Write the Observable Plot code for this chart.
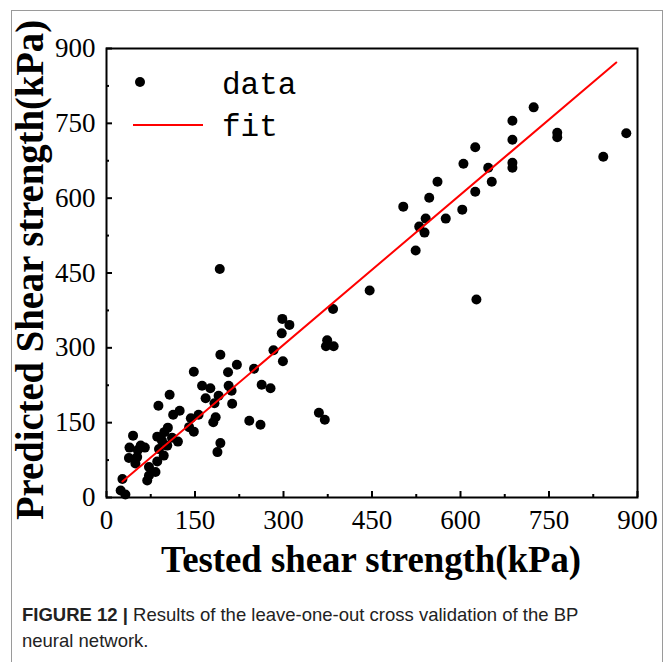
<!DOCTYPE html>
<html><head><meta charset="utf-8">
<script src="https://cdn.jsdelivr.net/npm/d3@7"></script>
<script src="https://cdn.jsdelivr.net/npm/@observablehq/plot@0.6"></script>
<style>
body{margin:0;background:#fff;width:664px;height:662px;overflow:hidden;position:relative}
#frame{position:absolute;left:11px;top:10px;width:650px;height:720px;border:1.5px solid #9a9a9a;}
#chart{position:absolute;left:0;top:0}
#cap{position:absolute;left:22px;top:602px;font:18.5px "Liberation Sans",Arial,sans-serif;color:#222;line-height:26px;white-space:nowrap}
</style></head><body>
<div id="frame"></div>
<div id="chart"></div>
<div id="cap"><b>FIGURE 12 |</b> Results of the leave-one-out cross validation of the BP<br>neural network.</div>
<script>
// Tested (x) and predicted (y) shear strength, kPa
const tested = [297,283,299,193,221,148,206,250,162,176,207,212,263,278,107,168,190,183,213,88,124,113,156,143,185,181,242,261,140,148,104,98,86,94,121,103,89,193,188,45,39,58,65,53,38,52,49,72,83,72,69,27,24,32,86,97,111,
  192,298,310,
  446,384,374,372,385,360,370,
  503,524,530,539,541,547,561,575,603,605,625,625,627,647,653,688,688,688,688,724,764,764,842,881];
const predicted = [329,295,273,286,266,252,251,258,224,219,224,214,226,219,206,199,204,189,188,184,174,166,166,159,161,151,154,146,141,132,140,131,122,114,112,104,97,109,91,124,100,104,100,95,79,81,68,61,51,44,34,37,14,6,72,84,120,
  458,358,346,
  415,378,315,303,303,170,156,
  583,495,543,531,559,601,633,559,577,669,702,613,397,661,633,755,717,671,661,782,731,722,683,730];
const fitX = [27, 864];
const fitY = [32, 872];
const majorTicks = [0,150,300,450,600,750,900];
const minorTicks = [75,225,375,525,675,825];
const legendLabels = ["data","fit"];
const xTitle = "Tested shear strength(kPa)";
const yTitle = "Predicted Shear strength(kPa)";

const points = tested.map((x,i)=>({x, y: predicted[i]}));
const fit = fitX.map((x,i)=>({x, y: fitY[i]}));

const W = 664, H = 590, mL = 106, mR = 27, mT = 48, mB = 93;
const innerW = W - mL - mR, innerH = H - mT - mB;

const plot = Plot.plot({
  width: W, height: H,
  marginLeft: mL, marginRight: mR, marginTop: mT, marginBottom: mB,
  x: {domain:[0,900], axis:null},
  y: {domain:[0,900], axis:null},
  style: {background:"transparent", fontFamily:"'Liberation Serif','Times New Roman',serif", color:"black"},
  marks: [
    Plot.dot(points, {x:"x", y:"y", r:5, fill:"black", stroke:"none"}),
    Plot.line(fit, {x:"x", y:"y", stroke:"#ff0000", strokeWidth:2}),
    Plot.ruleX(majorTicks, {x:d=>d, insetTop: innerH - 6, stroke:"black", strokeWidth:2}),
    Plot.ruleX(minorTicks, {x:d=>d, insetTop: innerH - 3, stroke:"black", strokeWidth:2}),
    Plot.ruleY(majorTicks, {y:d=>d, insetRight: innerW - 6, stroke:"black", strokeWidth:2}),
    Plot.ruleY(minorTicks, {y:d=>d, insetRight: innerW - 3, stroke:"black", strokeWidth:2}),
    Plot.text(majorTicks, {x:d=>d, text:d=>String(d), frameAnchor:"bottom", lineAnchor:"top", dy:12, fontSize:27, fill:"black"}),
    Plot.text(majorTicks, {y:d=>d, text:d=>String(d), frameAnchor:"left", textAnchor:"end", dx:-11, fontSize:27, fill:"black"}),
    Plot.frame({stroke:"black", strokeWidth:2})
  ]
});
document.getElementById("chart").appendChild(plot);

const svg = d3.select(plot);
// legend
svg.append("circle").attr("cx",140).attr("cy",82).attr("r",5).attr("fill","black");
svg.append("line").attr("x1",133).attr("x2",203).attr("y1",125).attr("y2",125).attr("stroke","#ff0000").attr("stroke-width",2);
svg.append("text").attr("x",222).attr("y",94).attr("text-anchor","start").text(legendLabels[0])
  .attr("font-family","'Liberation Mono',monospace").attr("font-size",31).attr("fill","black");
svg.append("text").attr("x",222).attr("y",136).attr("text-anchor","start").text(legendLabels[1])
  .attr("font-family","'Liberation Mono',monospace").attr("font-size",31).attr("fill","black");
// titles
svg.append("text").attr("x",371).attr("y",572).attr("text-anchor","middle")
  .attr("font-family","'Liberation Serif',serif").attr("font-weight","bold").attr("font-size",38)
  .attr("textLength",420).attr("lengthAdjust","spacingAndGlyphs").attr("fill","black").text(xTitle);
svg.append("text").attr("transform","translate(43,270) rotate(-90)").attr("text-anchor","middle")
  .attr("font-family","'Liberation Serif',serif").attr("font-weight","bold").attr("font-size",40)
  .attr("textLength",500).attr("lengthAdjust","spacingAndGlyphs").attr("fill","black").text(yTitle);
</script>
</body></html>
